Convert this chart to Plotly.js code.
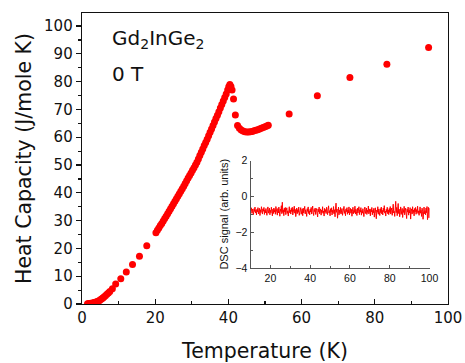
<!DOCTYPE html>
<html>
<head>
<meta charset="utf-8">
<script src="https://cdn.plot.ly/plotly-3.0.1.min.js"></script>
<style>html,body{margin:0;padding:0;background:#fff;}#chart{width:465px;height:363px;}</style>
</head>
<body>
<div id="chart"></div>
<script>
// Main heat-capacity data (T in K, C in J/mole K)
var tempK = [1.5,1.8,2.1,2.4,2.7,3.0,3.3,3.6,3.9,4.2,4.5,4.8,5.1,5.4,5.7,6.0,6.4,6.8,7.2,7.6,
  8.3,9.2,10.6,12.1,13.8,15.7,17.7,
  20.2,20.6,21.0,21.4,21.8,22.2,22.6,23.0,23.4,23.8,24.2,24.6,25.0,25.4,25.8,26.2,26.6,27.0,27.4,27.8,
  28.2,28.6,29.0,29.4,29.8,30.2,30.6,31.0,31.4,31.8,32.2,32.6,33.0,33.4,33.8,34.2,34.6,35.0,35.4,35.8,
  36.2,36.6,37.0,37.4,37.8,38.2,38.6,39.0,39.4,39.8,40.1,40.4,
  40.7,41.0,41.4,41.9,42.5,43.0,43.5,44.0,44.5,45.0,45.5,46.0,46.5,47.0,47.5,48.0,48.5,49.0,49.5,50.0,50.5,50.9,
  56.6,64.3,73.2,83.3,94.7];
var heatCap = [0.1,0.15,0.2,0.25,0.3,0.4,0.5,0.6,0.75,0.9,1.1,1.3,1.6,1.9,2.2,2.5,3.0,3.5,4.0,4.5,
  5.5,7.2,9.1,11.5,14.2,17.2,21.0,
  25.6,26.5,27.3,28.2,29.0,29.9,30.8,31.6,32.5,33.4,34.3,35.2,36.1,37.0,37.9,38.8,39.7,40.6,41.5,42.4,
  43.4,44.3,45.3,46.2,47.1,48.1,49.0,50.0,51.0,52.2,53.4,54.6,55.8,57.0,58.1,59.3,60.5,61.8,63.0,64.2,
  65.5,66.7,67.9,69.2,70.5,71.8,73.0,74.3,75.6,77.0,78.2,79.0,
  78.3,77.0,73.8,68.0,64.2,63.2,62.6,62.2,62.0,61.9,61.9,62.0,62.1,62.3,62.5,62.7,63.0,63.2,63.5,63.8,64.0,64.3,
  68.4,74.9,81.5,86.3,92.3];

// Inset DSC signal (arb. units), sampled every 0.25 K from 10.25 K to 100 K
var dscStartK = 10.25;
var dscStepK = 0.25;
var dscSignal = [
 -0.82,-0.64,-0.95,-0.71,-0.88,-1.02,-0.69,-0.84,-0.60,-0.93,
 -0.77,-1.04,-0.72,-0.86,-0.63,-0.98,-0.80,-0.67,-1.07,-0.75,
 -0.90,-0.58,-0.85,-0.99,-0.70,-0.83,-0.62,-1.01,-0.76,-0.92,
 -0.68,-0.87,-1.06,-0.73,-0.59,-0.94,-0.81,-0.66,-1.03,-0.78,
 -0.91,-0.61,-0.84,-1.09,-0.72,-0.96,-0.65,-0.88,-0.74,-1.00,
 -0.57,-0.89,-0.79,-1.05,-0.68,-0.93,-0.60,-0.86,-1.11,-0.71,
 -0.84,-0.52,-0.97,-0.33,-0.90,-0.75,-1.08,-0.66,-0.87,-0.62,
 -1.02,-0.78,-0.64,-0.95,-0.81,-1.10,-0.70,-0.58,-0.92,-0.76,
 -0.99,-0.67,-0.85,-0.61,-1.04,-0.79,-0.90,-0.55,-0.94,-0.73,
 -1.13,-0.82,-0.65,-0.97,-0.74,-0.89,-0.60,-1.06,-0.77,-0.86,
 -0.63,-1.00,-0.80,-0.70,-1.08,-0.66,-0.93,-0.78,-0.56,-0.98,
 -0.75,-0.88,-1.12,-0.69,-0.84,-0.59,-0.96,-0.81,-1.03,-0.72,
 -0.87,-0.62,-0.99,-0.76,-0.54,-0.91,-1.07,-0.73,-0.85,-0.65,
 -1.01,-0.79,-0.68,-0.94,-1.15,-0.71,-0.86,-0.60,-0.97,-0.83,
 -0.70,-1.05,-0.77,-0.90,-0.58,-0.95,-0.82,-1.10,-0.67,-0.88,
 -0.74,-0.96,-0.61,-0.86,-1.02,-0.72,-0.53,-0.93,-0.80,-1.09,
 -0.69,-0.87,-0.64,-1.04,-0.78,-0.91,-0.57,-0.98,-0.75,-1.14,
 -0.66,-0.38,-0.89,-0.71,-1.22,-0.84,-0.60,-1.03,-0.77,-0.92,
 -0.62,-0.99,-0.81,-0.68,-1.06,-0.74,-0.88,-0.56,-0.95,-0.79,
 -1.08,-0.70,-0.85,-0.63,-1.00,-0.76,-0.92,-0.59,-1.04,-0.82,
 -0.67,-0.94,-0.73,-1.11,-0.86,-0.61,-0.97,-0.78,-0.90,-0.55,
 -0.99,-0.72,-0.84,-1.07,-0.66,-0.93,-0.80,-0.58,-1.02,-0.75,
 -0.88,-0.63,-1.05,-0.79,-0.94,-0.69,-0.86,-1.13,-0.74,-0.60,
 -0.96,-0.81,-0.65,-1.01,-0.77,-0.90,-0.54,-0.98,-0.83,-0.70,
 -1.09,-0.73,-0.87,-0.62,-1.03,-0.78,-0.92,-0.67,-1.16,-0.80,
 -0.64,-0.95,-1.25,-0.76,-0.89,-0.58,-1.00,-0.71,-0.85,-1.07,
 -0.69,-0.91,-0.60,-0.98,-0.78,-1.04,-0.66,-0.86,-0.52,-0.94,
 -0.82,-1.10,-0.73,-0.88,-0.61,-0.97,-0.76,-1.02,-0.68,-0.90,
 -0.57,-0.99,-0.80,-0.65,-1.06,-0.74,-0.44,-0.93,-0.84,-1.12,
 -0.70,-0.28,-0.91,-0.62,-1.08,-0.77,-0.40,-0.96,-0.72,-1.14,
 -0.85,-0.59,-1.01,-0.79,-0.67,-1.18,-0.74,-0.90,-0.56,-1.03,
 -0.81,-0.66,-0.97,-1.24,-0.72,-0.88,-0.60,-1.05,-0.77,-0.93,
 -0.63,-1.27,-0.84,-0.70,-0.99,-0.58,-0.91,-0.76,-1.09,-0.68,
 -0.87,-0.62,-1.00,-0.74,-0.90,-0.55,-0.96,-0.81,-1.06,-0.71,
 -0.59,-0.94,-0.78,-1.12,-0.66,-0.86,-1.28,-0.73,-0.60,-0.97,
 -0.80,-1.03,-0.65,-0.91,-0.57,-1.30,-0.75,-0.62,-1.20,-0.66];

var mainXTicks = [0,20,40,60,80,100];
var mainYTicks = [0,10,20,30,40,50,60,70,80,90,100];
var insetXTicks = [20,40,60,80,100];
var insetYTicks = [-4,-2,0,2];

var font = '"DejaVu Sans", sans-serif';
var arial = 'Arial, "Liberation Sans", sans-serif';

var traces = [
  {x: tempK, y: heatCap, type: 'scatter', mode: 'markers',
   marker: {color: '#ff0000', size: 7}, xaxis: 'x', yaxis: 'y', hoverinfo: 'none'},
  {y: dscSignal, x0: dscStartK, dx: dscStepK, type: 'scatter', mode: 'lines',
   line: {color: '#ff0000', width: 1}, xaxis: 'x2', yaxis: 'y2', hoverinfo: 'none'}
];

var layout = {
  width: 465, height: 363,
  margin: {l: 82, r: 17, t: 13, b: 59},
  paper_bgcolor: '#fff', plot_bgcolor: '#fff',
  showlegend: false,
  font: {family: font, color: '#111'},
  xaxis: {
    range: [0, 100], tickvals: mainXTicks, ticks: 'inside', ticklen: 5, tickwidth: 1.2, tickcolor: '#111',
    minor: {dtick: 10, tick0: 0, ticks: 'inside', ticklen: 3, tickcolor: '#111', showgrid: false},
    showline: true, mirror: true, linecolor: '#111', linewidth: 1.3,
    showgrid: false, zeroline: false,
    tickfont: {size: 15, family: font, color: '#111'},
    title: {text: 'Temperature (K)', font: {size: 20.5, family: font, color: '#111'}, standoff: 17}
  },
  yaxis: {
    range: [0, 104.7], tickvals: mainYTicks, ticks: 'outside', ticklen: 5, tickwidth: 1.2, tickcolor: '#111',
    minor: {dtick: 5, tick0: 0, ticks: 'outside', ticklen: 3, tickcolor: '#111', showgrid: false},
    showline: true, mirror: true, linecolor: '#111', linewidth: 1.3,
    showgrid: false, zeroline: false,
    tickfont: {size: 15, family: font, color: '#111'},
    title: {text: 'Heat Capacity (J/mole K)', font: {size: 20.5, family: font, color: '#111'}, standoff: 7}
  },
  xaxis2: {
    anchor: 'y2', domain: [0.4604, 0.9495], range: [10, 100], tickvals: insetXTicks,
    ticks: 'inside', ticklen: 3, tickcolor: '#555',
    minor: {dtick: 10, tick0: 0, ticks: 'inside', ticklen: 2, tickcolor: '#555', showgrid: false},
    showline: true, linecolor: '#555', linewidth: 1, showgrid: false, zeroline: false,
    tickfont: {size: 10.5, family: arial, color: '#111'}
  },
  yaxis2: {
    anchor: 'x2', domain: [0.1237, 0.4931], range: [-4, 2], tickvals: insetYTicks,
    ticks: 'inside', ticklen: 3, tickcolor: '#555',
    minor: {dtick: 1, tick0: 0, ticks: 'inside', ticklen: 2, tickcolor: '#555', showgrid: false},
    showline: true, linecolor: '#555', linewidth: 1, showgrid: false, zeroline: false,
    tickfont: {size: 10.5, family: arial, color: '#111'},
    title: {text: 'DSC signal (arb. units)', font: {size: 11, family: arial, color: '#111'}, standoff: 4}
  },
  annotations: [
    {text: 'Gd<sub>2</sub>InGe<sub>2</sub>', xref: 'paper', yref: 'paper', x: 0.0765, y: 0.912,
     xanchor: 'left', yanchor: 'middle', showarrow: false, font: {size: 20, family: font, color: '#111'}},
    {text: '0 T', xref: 'paper', yref: 'paper', x: 0.0765, y: 0.792,
     xanchor: 'left', yanchor: 'middle', showarrow: false, font: {size: 20, family: font, color: '#111'}}
  ]
};

Plotly.newPlot('chart', traces, layout, {displayModeBar: false, staticPlot: true});
</script>
</body>
</html>
